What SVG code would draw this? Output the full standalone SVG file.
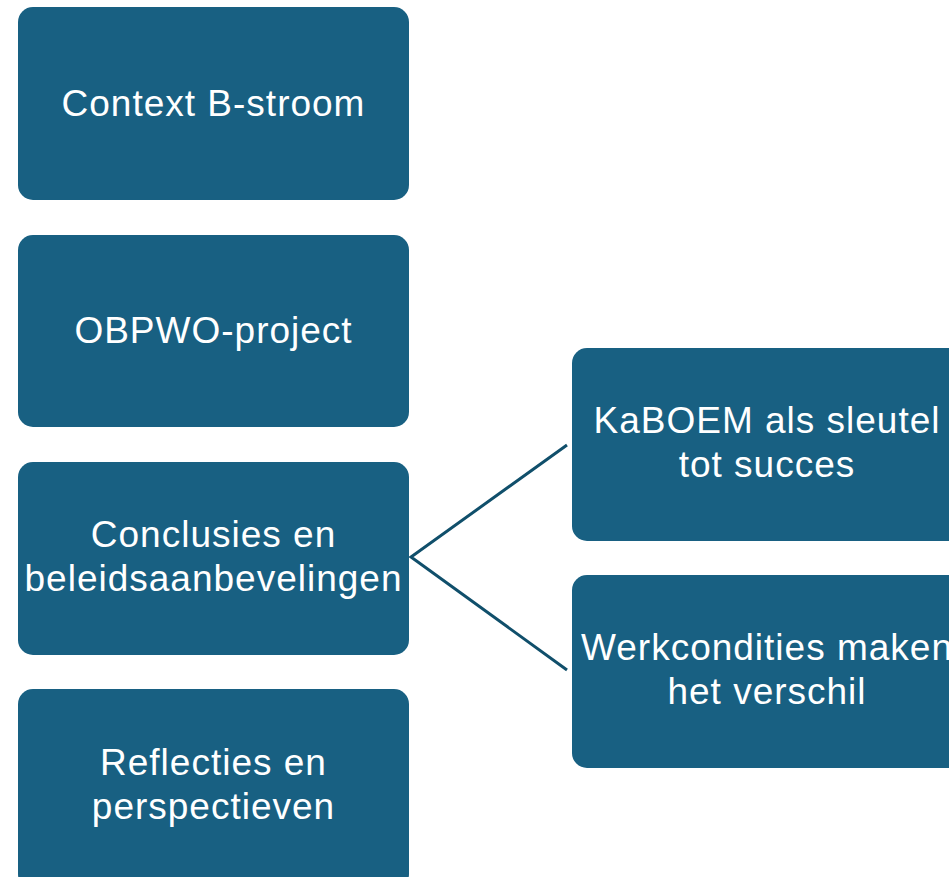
<svg xmlns="http://www.w3.org/2000/svg" width="949" height="877" viewBox="0 0 949 877">
<style>
.box{fill:#186082;}
.t{font-family:"Liberation Sans",Arial,sans-serif;font-size:37px;letter-spacing:1px;fill:#ffffff;text-anchor:middle;}
.c{stroke:#104f6b;stroke-width:3;fill:none;}
</style>
<rect width="949" height="877" fill="#ffffff"/>
<g id="connectors">
<polyline class="c" points="567,445 411,557 567,670"/>
</g>
<g id="n1"><rect class="box" x="18" y="7" width="391" height="193" rx="15"/><text class="t" x="213.5" y="116">Context B-stroom</text></g>
<g id="n2"><rect class="box" x="18" y="235" width="391" height="192" rx="15"/><text class="t" x="213.5" y="343">OBPWO-project</text></g>
<g id="n3"><rect class="box" x="18" y="462" width="391" height="193" rx="15"/><text class="t" x="213.5" y="547">Conclusies en</text><text class="t" x="213.5" y="591">beleidsaanbevelingen</text></g>
<g id="n4"><rect class="box" x="18" y="689" width="391" height="200" rx="15"/><text class="t" x="213.5" y="775">Reflecties en</text><text class="t" x="213.5" y="819">perspectieven</text></g>
<g id="n5"><rect class="box" x="572" y="348" width="390" height="193" rx="15"/><text class="t" x="767" y="433">KaBOEM als sleutel</text><text class="t" x="767" y="477">tot succes</text></g>
<g id="n6"><rect class="box" x="572" y="575" width="390" height="193" rx="15"/><text class="t" x="767" y="660">Werkcondities maken</text><text class="t" x="767" y="704">het verschil</text></g>
</svg>
